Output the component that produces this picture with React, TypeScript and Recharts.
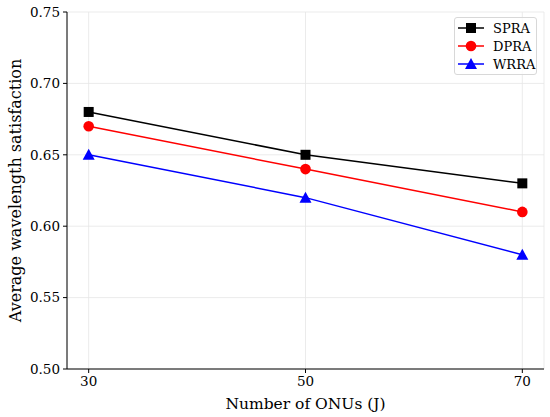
import React from 'react';
import { LineChart, Line, XAxis, YAxis, CartesianGrid } from 'recharts';

const onus = [30, 50, 70];
const spra = [0.68, 0.65, 0.63];
const dpra = [0.67, 0.64, 0.61];
const wrra = [0.65, 0.62, 0.58];
const yTicks = [0.5, 0.55, 0.6, 0.65, 0.7, 0.75];

const data = onus.map((x, i) => ({ x, SPRA: spra[i], DPRA: dpra[i], WRRA: wrra[i] }));

const FONT = '"DejaVu Serif", serif';

const Square = (props: any) => {
  const { cx, cy, fill } = props;
  if (cx == null || cy == null) return null;
  return <rect x={cx - 5} y={cy - 5} width={10} height={10} fill={fill} />;
};
const Circle = (props: any) => {
  const { cx, cy, fill } = props;
  if (cx == null || cy == null) return null;
  return <circle cx={cx} cy={cy} r={5.3} fill={fill} />;
};
const Triangle = (props: any) => {
  const { cx, cy, fill } = props;
  if (cx == null || cy == null) return null;
  return <polygon points={`${cx},${cy - 6} ${cx - 6},${cy + 5} ${cx + 6},${cy + 5}`} fill={fill} />;
};

const series = [
  { key: 'SPRA', color: '#000000', Shape: Square },
  { key: 'DPRA', color: '#ff0000', Shape: Circle },
  { key: 'WRRA', color: '#0000ff', Shape: Triangle },
];

const LegendBox = () => (
  <div
    style={{
      position: 'absolute',
      left: 454,
      top: 17,
      width: 83,
      height: 58,
      boxSizing: 'border-box',
      border: '1px solid #d8d8d8',
      borderRadius: 3,
      background: 'rgba(255,255,255,0.8)',
      padding: '1px 0 0 3px',
      fontFamily: FONT,
      fontSize: 13,
      color: '#000',
    }}
  >
    {series.map(({ key, color, Shape }) => (
      <div key={key} style={{ display: 'flex', alignItems: 'center', height: 18 }}>
        <svg width={26} height={14} style={{ marginRight: 9 }}>
          <line x1={0} y1={7} x2={26} y2={7} stroke={color} strokeWidth={1.5} />
          <Shape cx={13} cy={7} fill={color} />
        </svg>
        <span>{key}</span>
      </div>
    ))}
  </div>
);

export default function App() {
  return (
    <div style={{ position: 'absolute', left: 0, top: 0, width: 550, height: 417, background: '#fff' }}>
      <LineChart width={550} height={417} data={data} margin={{ top: 12, right: 6, left: 0, bottom: 0 }}>
        <CartesianGrid stroke="#e6e6e6" strokeWidth={0.8} />
        <XAxis
          dataKey="x"
          type="number"
          domain={[28, 72]}
          ticks={onus}
          height={48}
          stroke="#000"
          tickSize={4}
          tick={{ fill: '#000', fontFamily: FONT, fontSize: 13.5 }}
          tickMargin={3}
          label={{ value: 'Number of ONUs (J)', position: 'insideBottom', offset: 8, fill: '#000', fontFamily: FONT, fontSize: 15.5 }}
        />
        <YAxis
          type="number"
          domain={[0.5, 0.75]}
          ticks={yTicks}
          width={67}
          stroke="#000"
          tickSize={4}
          tickFormatter={(v: number) => v.toFixed(2)}
          tick={{ fill: '#000', fontFamily: FONT, fontSize: 13.5 }}
          tickMargin={3}
          label={{ value: 'Average wavelength satisfaction', angle: -90, position: 'insideLeft', offset: 15, style: { textAnchor: 'middle' }, fill: '#000', fontFamily: FONT, fontSize: 16 }}
        />
        <XAxis xAxisId="top" orientation="top" dataKey="x" type="number" domain={[28, 72]} tick={false} tickLine={false} stroke="#000" height={0} />
        <YAxis yAxisId="right" orientation="right" domain={[0.5, 0.75]} tick={false} tickLine={false} stroke="#000" width={0} />
        {series.map(({ key, color, Shape }) => (
          <Line
            key={key}
            dataKey={key}
            stroke={color}
            strokeWidth={1.5}
            dot={<Shape fill={color} />}
            activeDot={false}
            isAnimationActive={false}
          />
        ))}
      </LineChart>
      <LegendBox />
    </div>
  );
}
